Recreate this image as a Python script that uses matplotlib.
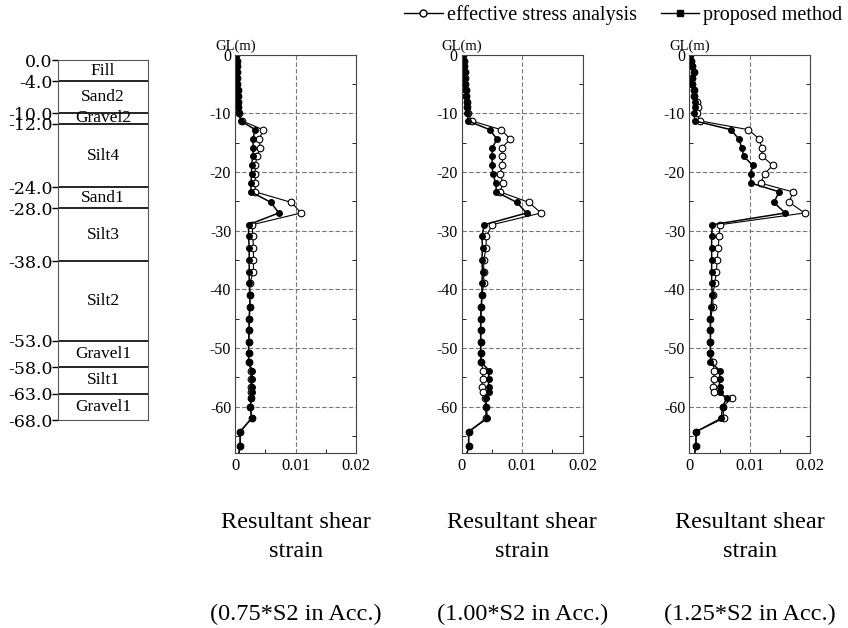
import matplotlib
matplotlib.use('Agg')
import matplotlib.pyplot as plt
from matplotlib.lines import Line2D
from matplotlib.ticker import MultipleLocator

plt.rcParams['font.family'] = ['Liberation Serif', 'DejaVu Serif']

# soil column
layer_tops = [0.0, -4.0, -10.0, -12.0, -24.0, -28.0, -38.0, -53.0, -58.0, -63.0, -68.0]
layer_names = ['Fill', 'Sand2', 'Gravel2', 'Silt4', 'Sand1', 'Silt3', 'Silt2',
               'Gravel1', 'Silt1', 'Gravel1']

# depths of the computed points (m)
depth = [0, -1, -2, -3, -4, -5, -6, -7, -8, -9, -10,
         -11.3, -12.8, -14.4, -15.9, -17.3, -18.9, -20.3, -21.9, -23.4,
         -25.2, -27.0,
         -29, -31, -33, -35, -37, -39, -41, -43, -45, -47, -49,
         -50.9, -52.4, -53.9, -55.3, -56.6, -57.6, -58.6, -60.0, -62.0,
         -64.3, -66.8, -69.0]

# proposed method
prop_075 = [0.0001, 0.0002, 0.0002, 0.0003, 0.0003, 0.0003, 0.0004, 0.0004, 0.0005, 0.0005, 0.0006,
            0.0009, 0.0033, 0.0029, 0.0030, 0.0029, 0.0027, 0.0027, 0.0026, 0.0026,
            0.0059, 0.0072,
            0.0022, 0.0022, 0.0023, 0.0023, 0.0023, 0.0023, 0.0024, 0.0024, 0.0023, 0.0023, 0.0022,
            0.0022, 0.0022, 0.0028, 0.0028, 0.0027, 0.0027, 0.0026, 0.0025, 0.0027,
            0.0008, 0.0008, 0.0004]
prop_100 = [0.0001, 0.0003, 0.0004, 0.0005, 0.0005, 0.0005, 0.0006, 0.0007, 0.0008, 0.0008, 0.0009,
            0.0010, 0.0046, 0.0058, 0.0050, 0.0050, 0.0050, 0.0051, 0.0056, 0.0057,
            0.0091, 0.0107,
            0.0037, 0.0033, 0.0034, 0.0033, 0.0034, 0.0033, 0.0033, 0.0032, 0.0031, 0.0031, 0.0031,
            0.0031, 0.0032, 0.0045, 0.0044, 0.0044, 0.0044, 0.0040, 0.0040, 0.0042,
            0.0011, 0.0011, 0.0006]
prop_125 = [0.0001, 0.0003, 0.0004, 0.0007, 0.0004, 0.0005, 0.0008, 0.0008, 0.0009, 0.0009, 0.0008,
            0.0009, 0.0069, 0.0082, 0.0087, 0.0090, 0.0105, 0.0102, 0.0102, 0.0149,
            0.0140, 0.0159,
            0.0038, 0.0037, 0.0037, 0.0037, 0.0037, 0.0037, 0.0038, 0.0036, 0.0035, 0.0035, 0.0035,
            0.0035, 0.0035, 0.0051, 0.0050, 0.0050, 0.0050, 0.0062, 0.0055, 0.0053,
            0.0011, 0.0011, 0.0007]

# effective stress analysis
esa_075 = [0.0001, 0.0002, 0.0002, 0.0003, 0.0003, 0.0003, 0.0004, 0.0004, 0.0005, 0.0005, 0.0006,
           0.0011, 0.0046, 0.0040, 0.0041, 0.0036, 0.0033, 0.0033, 0.0033, 0.0033,
           0.0093, 0.0109,
           0.0028, 0.0029, 0.0030, 0.0030, 0.0030, 0.0024, 0.0024, 0.0024, 0.0023, 0.0023, 0.0022,
           0.0022, 0.0022, 0.0026, 0.0026, 0.0026, 0.0026, 0.0026, 0.0025, 0.0027,
           0.0008, 0.0008, 0.0004]
esa_100 = [0.0001, 0.0003, 0.0004, 0.0005, 0.0005, 0.0005, 0.0006, 0.0007, 0.0008, 0.0008, 0.0010,
           0.0016, 0.0065, 0.0080, 0.0066, 0.0067, 0.0067, 0.0063, 0.0068, 0.0063,
           0.0111, 0.0131,
           0.0050, 0.0040, 0.0040, 0.0036, 0.0036, 0.0036, 0.0033, 0.0032, 0.0031, 0.0031, 0.0031,
           0.0031, 0.0032, 0.0035, 0.0034, 0.0033, 0.0034, 0.0038, 0.0039, 0.0040,
           0.0011, 0.0011, 0.0006]
esa_125 = [0.0001, 0.0003, 0.0004, 0.0007, 0.0004, 0.0005, 0.0008, 0.0008, 0.0012, 0.0015, 0.0012,
           0.0018, 0.0098, 0.0116, 0.0120, 0.0121, 0.0138, 0.0125, 0.0118, 0.0171,
           0.0166, 0.0191,
           0.0051, 0.0049, 0.0048, 0.0046, 0.0045, 0.0042, 0.0039, 0.0039, 0.0035, 0.0035, 0.0035,
           0.0035, 0.0039, 0.0041, 0.0041, 0.0040, 0.0041, 0.0070, 0.0056, 0.0057,
           0.0011, 0.0011, 0.0007]

cases = ['(0.75*S2 in Acc.)', '(1.00*S2 in Acc.)', '(1.25*S2 in Acc.)']
esa_all = [esa_075, esa_100, esa_125]
prop_all = [prop_075, prop_100, prop_125]

fig = plt.figure(figsize=(8.48, 6.28), dpi=100)

# --- soil profile column
axs = fig.add_axes([0.0684, 0.331, 0.106, 0.573])
axs.set_xlim(0, 1)
axs.set_ylim(-68, 0)
for y in layer_tops[1:-1]:
    axs.axhline(y, color='black', lw=1.2)
for i, name in enumerate(layer_names):
    mid = (layer_tops[i] + layer_tops[i + 1]) / 2
    axs.text(0.5, mid, name, ha='center', va='center', fontsize=12.5)
axs.set_xticks([])
axs.set_yticks(layer_tops)
axs.set_yticklabels(['%.1f' % v for v in layer_tops], fontsize=12.5,
                    family=['DejaVu Serif'])
axs.tick_params(axis='y', direction='out', length=4, width=1, pad=0)
for s in axs.spines.values():
    s.set_color('#555555')

# --- strain panels
lefts = [0.2775, 0.5448, 0.8129]
for k in range(3):
    ax = fig.add_axes([lefts[k], 0.278, 0.1423, 0.635])
    ax.plot(esa_all[k], depth, color='black', lw=0.8, marker='o', ms=4.8,
            mfc='white', mec='black', mew=0.8)
    ax.plot(prop_all[k], depth, color='black', lw=1.1, marker='o', ms=4,
            mfc='black', mec='black')
    ax.set_xlim(0, 0.02)
    ax.set_ylim(-68, 0)
    ax.set_xticks([0, 0.01, 0.02])
    ax.set_xticklabels(['0', '0.01', '0.02'], fontsize=12)
    ax.set_yticks([0, -10, -20, -30, -40, -50, -60])
    ax.set_yticklabels(['0', '-10', '-20', '-30', '-40', '-50', '-60'], fontsize=11.5)
    ax.xaxis.set_minor_locator(MultipleLocator(0.005))
    ax.yaxis.set_minor_locator(MultipleLocator(5))
    ax.tick_params(which='both', direction='in', right=True, length=0, pad=3)
    ax.tick_params(which='minor', length=3)
    ax.grid(True, which='major', color='#777777', linestyle=(0, (4, 2)), lw=0.8)
    for s in ax.spines.values():
        s.set_color('#444444')
    ax.text(0.0, 1.005, 'GL(m)', transform=ax.transAxes, ha='center', va='bottom',
            fontsize=10.5)
    cx = lefts[k] + 0.1423 / 2
    fig.text(cx, 0.145, 'Resultant shear\nstrain', ha='center', va='center',
             fontsize=17.5, linespacing=1.5)
    fig.text(cx, 0.022, cases[k], ha='center', va='center', fontsize=17.5)

handles = [Line2D([], [], color='black', lw=1, marker='o', ms=5, mfc='white', mec='black'),
           Line2D([], [], color='black', lw=1, marker='s', ms=5, mfc='black', mec='black')]
fig.legend(handles, ['effective stress analysis', 'proposed method'], loc='upper right',
           bbox_to_anchor=(1.0145, 1.02), ncol=2, frameon=False, fontsize=14.5,
           handlelength=1.9, handletextpad=0.2, columnspacing=1.2)

fig.savefig('out.png', dpi=100)
